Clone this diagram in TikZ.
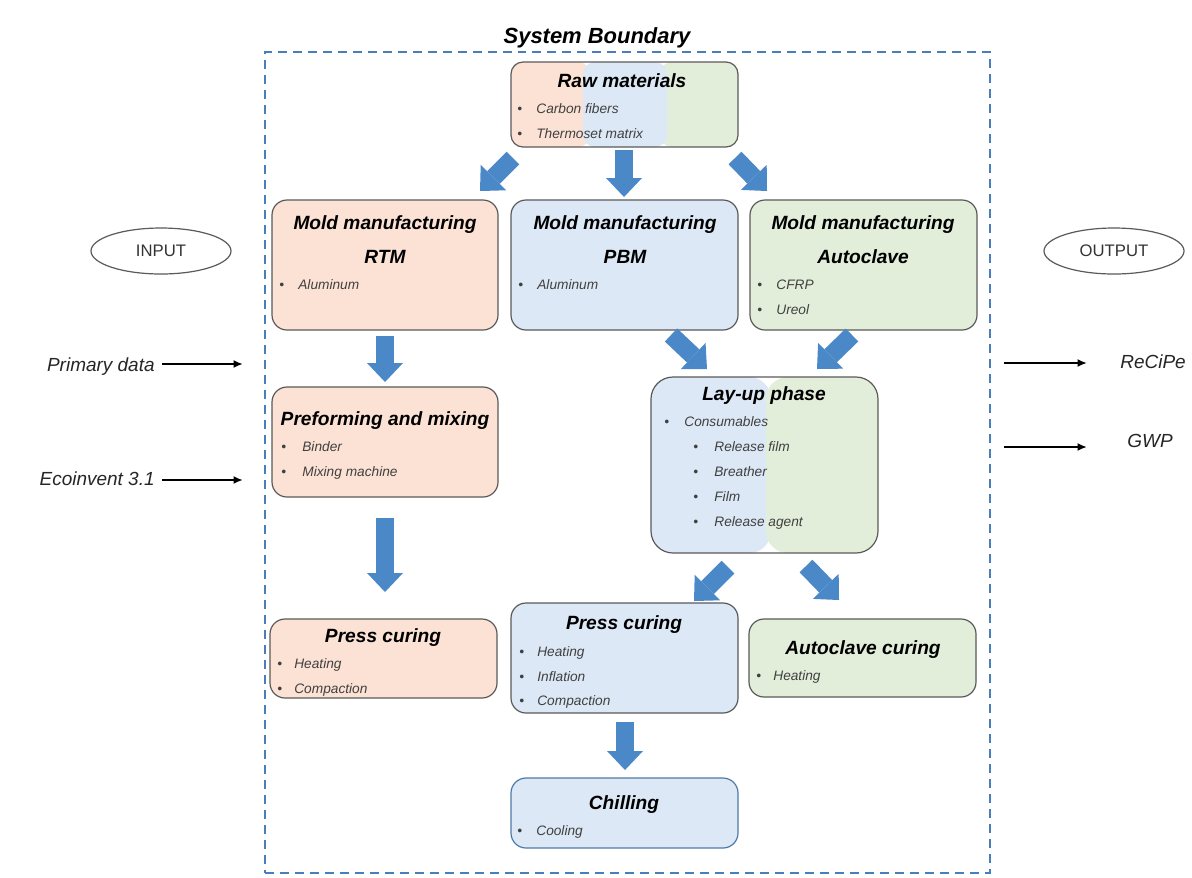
\documentclass[tikz,border=0pt]{standalone}
\usepackage{fontspec}
\setmainfont{Liberation Sans}
\usetikzlibrary{arrows.meta,shapes.geometric}
\newdimen\px \px=0.02cm
\newcommand\bl[1]{\makebox[#1\px][l]{\textbullet}}
\definecolor{ofill}{HTML}{FBE2D5}
\definecolor{bfill}{HTML}{DCE8F5}
\definecolor{gfill}{HTML}{E2EEDA}
\definecolor{bord}{HTML}{5A5A5A}
\definecolor{itemgray}{HTML}{404040}
\definecolor{arrblue}{HTML}{4A88C8}
\definecolor{dashblue}{HTML}{4A7EBB}
\begin{document}
\begin{tikzpicture}[x=0.02cm,y=-0.02cm,
  box/.style={draw=bord, line width=1.2\px, rounded corners=15\px, inner sep=0pt},
  ttl/.style={font=\fontsize{10.9}{13}\selectfont\bfseries\itshape, inner sep=0pt, text height=1.5ex, text depth=.25ex, yshift=-0.04cm},
  itm/.style={font=\fontsize{7.8}{9}\selectfont\itshape, text=itemgray, anchor=west, inner sep=0pt, text height=1.5ex, text depth=.25ex},
  side/.style={font=\fontsize{10.8}{13}\selectfont\itshape, text=black!85, inner sep=0pt, text height=1.5ex, text depth=.25ex},
  oval/.style={ellipse, draw=bord, line width=1.2\px, minimum width=140\px, minimum height=46\px, inner sep=0pt, font=\fontsize{9.5}{11}\selectfont, text=black!80},
  blk/.style={draw=arrblue, line width=0.36cm, -{Triangle[width=0.72cm,length=0.38cm,line width=0pt]}},
  thinarr/.style={draw=black, line width=0.04cm, -{Latex[length=0.19cm,width=0.16cm]}}
]
\useasboundingbox (0,0) rectangle (1192,877);
\fill[white] (0,0) rectangle (1192,877);

% system boundary
\node[draw=dashblue, line width=1.6\px, dash pattern=on 0.18cm off 0.12cm, minimum width=725\px, minimum height=821\px, inner sep=0pt] (sysb) at (627.5,462.5) {};
\node[font=\fontsize{12.5}{15}\selectfont\bfseries\itshape, inner sep=0pt] (sysbT) at (597,38) {System Boundary};

% raw materials (banded)
\begin{scope}
\clip[rounded corners=12\px] (511,62) rectangle (738,147);
\fill[ofill, rounded corners=12\px] (511,62) rectangle (590,147);
\fill[gfill, rounded corners=12\px] (660,62) rectangle (738,147);
\fill[bfill, rounded corners=12\px] (583,62) rectangle (667,147);
\end{scope}
\node[box, rounded corners=12\px, minimum width=227\px, minimum height=85\px] (raw) at (624.5,104.5) {};
\node[ttl] (rawT) at (622,80) {Raw materials};
\node[itm] (rawI1) at (517,108) {\bl{19}Carbon fibers};
\node[itm] (rawI2) at (517,133) {\bl{19}Thermoset matrix};

% mold manufacturing boxes
\node[box, fill=ofill, minimum width=226\px, minimum height=130\px] (rtm) at (385,265) {};
\node[ttl] (rtmT1) at (385,222) {Mold manufacturing};
\node[ttl] (rtmT2) at (385,256) {RTM};
\node[itm] (rtmI1) at (279,284) {\bl{19}Aluminum};

\node[box, fill=bfill, minimum width=227\px, minimum height=130\px] (pbm) at (624.5,265) {};
\node[ttl] (pbmT1) at (625,222) {Mold manufacturing};
\node[ttl] (pbmT2) at (625,256) {PBM};
\node[itm] (pbmI1) at (518,284) {\bl{19}Aluminum};

\node[box, fill=gfill, minimum width=227\px, minimum height=130\px] (acl) at (863.5,265) {};
\node[ttl] (aclT1) at (863,222) {Mold manufacturing};
\node[ttl] (aclT2) at (863,256) {Autoclave};
\node[itm] (aclI1) at (757,284) {\bl{19}CFRP};
\node[itm] (aclI2) at (757,309) {\bl{19}Ureol};

% preforming
\node[box, fill=ofill, minimum width=226\px, minimum height=110\px] (pre) at (385,442) {};
\node[ttl] (preT) at (385,418) {Preforming and mixing};
\node[itm] (preI1) at (281,446) {\bl{21}Binder};
\node[itm] (preI2) at (281,471) {\bl{21}Mixing machine};

% lay-up (banded)
\begin{scope}
\clip[rounded corners=22\px] (651,377) rectangle (878,553);
\fill[bfill, rounded corners=22\px] (651,377) rectangle (771,553);
\fill[gfill, rounded corners=22\px] (766,377) rectangle (878,553);
\end{scope}
\node[box, rounded corners=22\px, minimum width=227\px, minimum height=176\px] (lay) at (764.5,465) {};
\node[ttl] (layT) at (764,393) {Lay-up phase};
\node[itm] (layI1) at (664,421) {\bl{20}Consumables};
\node[itm] (layI2) at (693,446) {\bl{21}Release film};
\node[itm] (layI3) at (693,471) {\bl{21}Breather};
\node[itm] (layI4) at (693,496) {\bl{21}Film};
\node[itm] (layI5) at (693,521) {\bl{21}Release agent};

% press curing RTM
\node[box, fill=ofill, minimum width=227\px, minimum height=79\px] (prl) at (383.5,658.5) {};
\node[ttl] (prlT) at (383,635) {Press curing};
\node[itm] (prlI1) at (277,663) {\bl{17}Heating};
\node[itm] (prlI2) at (277,688) {\bl{17}Compaction};

% press curing PBM
\node[box, fill=bfill, minimum width=227\px, minimum height=110\px] (prm) at (624.5,658) {};
\node[ttl] (prmT) at (624,622) {Press curing};
\node[itm] (prmI1) at (519,651) {\bl{18}Heating};
\node[itm] (prmI2) at (519,676) {\bl{18}Inflation};
\node[itm] (prmI3) at (519,700) {\bl{18}Compaction};

% autoclave curing
\node[box, fill=gfill, minimum width=227\px, minimum height=78\px] (acc) at (862.5,658) {};
\node[ttl] (accT) at (863,647) {Autoclave curing};
\node[itm] (accI1) at (756,675) {\bl{17}Heating};

% chilling
\node[box, draw=arrblue!70!bord, fill=bfill, minimum width=227\px, minimum height=70\px] (chl) at (624.5,813) {};
\node[ttl] (chlT) at (624,802) {Chilling};
\node[itm] (chlI1) at (517,830) {\bl{19}Cooling};

% block arrows
\coordinate (a1s) at (513,158); \coordinate (a1e) at (480,191);
\coordinate (a2s) at (624,150); \coordinate (a2e) at (624,197);
\coordinate (a3s) at (735,158); \coordinate (a3e) at (767,191);
\coordinate (a4s) at (385,336); \coordinate (a4e) at (385,382);
\coordinate (a5s) at (671,335); \coordinate (a5e) at (707,369);
\coordinate (a6s) at (852,335); \coordinate (a6e) at (817,369);
\coordinate (a7s) at (385,518); \coordinate (a7e) at (385,592);
\coordinate (a8s) at (728,567); \coordinate (a8e) at (694,601);
\coordinate (a9s) at (806,566); \coordinate (a9e) at (839,600);
\coordinate (a10s) at (625,722); \coordinate (a10e) at (625,770);
\draw[blk] (a1s) -- (a1e);
\draw[blk] (a2s) -- (a2e);
\draw[blk] (a3s) -- (a3e);
\draw[blk] (a4s) -- (a4e);
\draw[blk] (a5s) -- (a5e);
\draw[blk] (a6s) -- (a6e);
\draw[blk] (a7s) -- (a7e);
\draw[blk] (a8s) -- (a8e);
\draw[blk] (a9s) -- (a9e);
\draw[blk] (a10s) -- (a10e);

% input / output
\node[oval] (input) at (161,251) {INPUT};
\node[oval] (output) at (1114,251) {OUTPUT};

\node[side, anchor=east] (prim) at (155,366) {Primary data};
\node[side, anchor=east] (eco) at (155,480) {Ecoinvent 3.1};
\coordinate (primS) at (162,364); \coordinate (primE) at (243,364);
\coordinate (ecoS) at (162,480); \coordinate (ecoE) at (243,480);
\draw[thinarr] (primS) -- (primE);
\draw[thinarr] (ecoS) -- (ecoE);

\node[side, anchor=west] (recipe) at (1120,363) {ReCiPe};
\node[side, anchor=west] (gwp) at (1127,442) {GWP};
\coordinate (recS) at (1004,363); \coordinate (recE) at (1087,363);
\coordinate (gwpS) at (1004,447); \coordinate (gwpE) at (1087,447);
\draw[thinarr] (recS) -- (recE);
\draw[thinarr] (gwpS) -- (gwpE);
\end{tikzpicture}
\end{document}
